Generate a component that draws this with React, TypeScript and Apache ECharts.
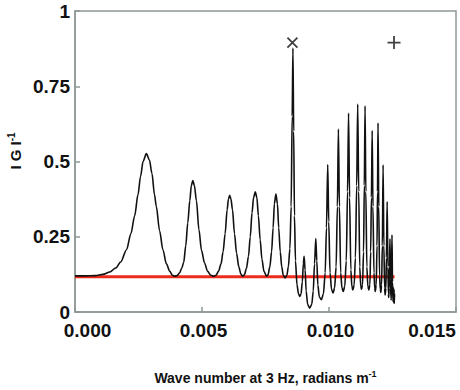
import React, { useEffect, useRef } from "react";
import * as echarts from "echarts";

// Wave number (radians per metre) of each sampled point of the |G|^-1 curve
const waveNumber: number[] = [
  0, 0.0004, 0.0008, 0.0011, 0.00137, 0.0016, 0.0018, 0.00203, 0.0022, 0.00235,
  0.00248, 0.00258, 0.00268, 0.00281, 0.00293, 0.00303, 0.00313, 0.0032, 0.00333, 0.00346,
  0.0036, 0.00373, 0.00384, 0.00392, 0.00402, 0.00412, 0.0042, 0.00428, 0.00436, 0.00444,
  0.00452, 0.00458, 0.00464, 0.0047, 0.00478, 0.00488, 0.00498, 0.0051, 0.00522, 0.00535,
  0.00546, 0.00555, 0.00565, 0.00575, 0.00583, 0.00591, 0.00599, 0.00604, 0.00609, 0.00614,
  0.0062, 0.00628, 0.00636, 0.00645, 0.00653, 0.0066, 0.00667, 0.00675, 0.00683, 0.0069,
  0.00697, 0.00703, 0.0071, 0.00716, 0.00722, 0.00729, 0.00736, 0.00744, 0.00754, 0.0076,
  0.00767, 0.00774, 0.0078, 0.00785, 0.00791, 0.00797, 0.00802, 0.00808, 0.00814, 0.0082,
  0.00827, 0.00834, 0.0084, 0.00846, 0.00851, 0.00855, 0.00858, 0.00861, 0.00864, 0.00868,
  0.00874, 0.0088, 0.00885, 0.0089, 0.00895, 0.00899, 0.00902, 0.00906, 0.0091, 0.00916,
  0.00924, 0.00932, 0.00938, 0.00943, 0.00948, 0.00952, 0.00956, 0.00962, 0.0097, 0.00978,
  0.00985, 0.0099, 0.00995, 0.00999, 0.01004, 0.0101, 0.01016, 0.01022, 0.01028, 0.01033,
  0.01037, 0.01041, 0.01046, 0.01051, 0.01056, 0.01062, 0.01068, 0.01073, 0.01077, 0.01081,
  0.01086, 0.0109, 0.01094, 0.01099, 0.01104, 0.01109, 0.01113, 0.01117, 0.01121, 0.01125,
  0.01128, 0.01132, 0.01136, 0.01139, 0.01142, 0.01145, 0.01149, 0.01153, 0.01157, 0.01161,
  0.01164, 0.01167, 0.0117, 0.01173, 0.01177, 0.0118, 0.01182, 0.01186, 0.01189, 0.01191,
  0.01193, 0.01196, 0.01199, 0.01202, 0.01204, 0.01207, 0.0121, 0.01213, 0.01216, 0.01219,
  0.01221, 0.01224, 0.01226, 0.01229, 0.01232, 0.01234, 0.01235, 0.01237, 0.01238, 0.0124,
  0.01242, 0.01244, 0.01245, 0.01246, 0.01248, 0.0125, 0.01252, 0.01253, 0.01254, 0.01255,
  0.01256, 0.01257, 0.01258,
];

// |G|^-1 at each wave number above
const invG: number[] = [
  0.12, 0.12, 0.121, 0.125, 0.133, 0.146, 0.166, 0.207, 0.26, 0.32,
  0.39, 0.45, 0.5, 0.526, 0.505, 0.46, 0.39, 0.351, 0.27, 0.207,
  0.16, 0.135, 0.122, 0.119, 0.121, 0.13, 0.145, 0.165, 0.22, 0.296,
  0.37, 0.42, 0.437, 0.42, 0.37, 0.273, 0.205, 0.163, 0.135, 0.122,
  0.119, 0.122, 0.135, 0.16, 0.2, 0.26, 0.34, 0.375, 0.388, 0.375,
  0.34, 0.26, 0.195, 0.15, 0.126, 0.119, 0.124, 0.145, 0.185, 0.25,
  0.33, 0.38, 0.399, 0.38, 0.32, 0.24, 0.175, 0.135, 0.119, 0.124,
  0.15, 0.2, 0.28, 0.36, 0.392, 0.36, 0.28, 0.2, 0.15, 0.122,
  0.113, 0.122, 0.15, 0.21, 0.35, 0.65, 0.877, 0.6, 0.32, 0.17,
  0.09, 0.06, 0.052, 0.06, 0.1, 0.16, 0.185, 0.14, 0.07, 0.025,
  0.013, 0.025, 0.07, 0.16, 0.244, 0.17, 0.09, 0.05, 0.041, 0.06,
  0.13, 0.28, 0.49, 0.3, 0.13, 0.075, 0.063, 0.08, 0.15, 0.35,
  0.608, 0.35, 0.13, 0.08, 0.068, 0.085, 0.17, 0.4, 0.661, 0.38,
  0.14, 0.085, 0.073, 0.09, 0.18, 0.42, 0.691, 0.4, 0.15, 0.085,
  0.075, 0.09, 0.2, 0.42, 0.685, 0.4, 0.15, 0.085, 0.073, 0.09,
  0.2, 0.38, 0.603, 0.35, 0.13, 0.08, 0.068, 0.09, 0.22, 0.4,
  0.628, 0.35, 0.12, 0.075, 0.065, 0.09, 0.22, 0.489, 0.22, 0.08,
  0.057, 0.08, 0.18, 0.367, 0.15, 0.06, 0.048, 0.08, 0.15, 0.243,
  0.11, 0.045, 0.04, 0.12, 0.256, 0.1, 0.035, 0.05, 0.08, 0.03,
  0.075, 0.028, 0.06,
];

// Red reference level
const refLevelX: number[] = [0, 0.01258];
const refLevelY: number[] = [0.117, 0.117];

// Markers above the curve
const crossPoint: number[] = [0.00856, 0.895];
const plusPoint: number[] = [0.01256, 0.895];

const xTicks: string[] = ["0.000", "0.005", "0.010", "0.015"];
const yTicks: string[] = ["0", "0.25", "0.5", "0.75", "1"];

export default function App() {
  const ref = useRef<HTMLDivElement>(null);

  useEffect(() => {
    if (!ref.current) return;
    const chart = echarts.init(ref.current, undefined, { renderer: "svg" });
    const gray = "#8e9896";
    const font = "Liberation Sans, Arial, Helvetica, sans-serif";
    const curve = waveNumber.map((x, i) => [x, invG[i]]);
    const ref2 = refLevelX.map((x, i) => [x, refLevelY[i]]);
    const lbl = { fontSize: 19, fontWeight: "bold", fontFamily: font, color: "#111" };

    chart.setOption({
      animation: false,
      backgroundColor: "#ffffff",
      grid: {
        left: 75,
        right: 4,
        top: 11,
        bottom: 78,
        show: true,
        borderColor: gray,
        borderWidth: 1.5,
        backgroundColor: "transparent",
        outerBoundsMode: "none",
        containLabel: false,
      },
      xAxis: {
        type: "value",
        min: 0,
        max: 0.015,
        interval: 0.005,
        name: "{t|Wave number at 3 Hz, radians m}{s|-1}",
        nameLocation: "middle",
        nameGap: 57,
        nameTextStyle: {
          rich: {
            t: { fontSize: 14, fontWeight: "bold", fontFamily: font, color: "#111" },
            s: { fontSize: 9, fontWeight: "bold", fontFamily: font, color: "#111", padding: [0, 0, 8, 0] },
          },
        },
        axisLine: { show: true, lineStyle: { color: gray, width: 1.5 } },
        axisTick: { show: true, inside: true, length: 5, lineStyle: { color: gray, width: 1.5 } },
        splitLine: { show: false },
        axisLabel: {
          margin: 9,
          ...lbl,
          formatter: (v: number) => {
            const i = Math.round(v / 0.005);
            const t = xTicks[i] ?? "";
            if (i === 0) return "{a|" + t + "}";
            if (i === xTicks.length - 1) return "{c|" + t + "}";
            return "{b|" + t + "}";
          },
          rich: {
            a: { ...lbl, padding: [0, 0, 0, 25] },
            b: { ...lbl, padding: [0, 0, 0, 3] },
            c: { ...lbl, padding: [0, 48, 0, 0] },
          },
        },
      },
      yAxis: {
        type: "value",
        min: 0,
        max: 1,
        interval: 0.25,
        axisLine: { show: true, lineStyle: { color: gray, width: 1.5 } },
        axisTick: { show: true, inside: true, length: 5, lineStyle: { color: gray, width: 1.5 } },
        splitLine: { show: false },
        axisLabel: {
          margin: 5,
          ...lbl,
          formatter: (v: number) => yTicks[Math.round(v / 0.25)] ?? "",
        },
      },
      graphic: [
        {
          type: "text",
          x: 15,
          y: 151,
          rotation: Math.PI / 2,
          style: {
            text: "{t|I G I}{s|-1}",
            textAlign: "center",
            textVerticalAlign: "middle",
            rich: {
              t: { fontSize: 15, fontWeight: "bold", fontFamily: font, fill: "#111" },
              s: { fontSize: 10, fontWeight: "bold", fontFamily: font, fill: "#111", padding: [0, 0, 8, 0] },
            },
          },
        },
      ],
      series: [
        {
          type: "line",
          data: ref2,
          showSymbol: false,
          symbol: "none",
          lineStyle: { color: "#ee2a1b", width: 3 },
          z: 2,
          silent: true,
        },
        {
          type: "line",
          data: curve,
          showSymbol: false,
          symbol: "none",
          smooth: 0.3,
          smoothMonotone: "x",
          lineStyle: { color: "#111111", width: 1.6 },
          z: 3,
          silent: true,
        },
        {
          type: "scatter",
          data: [crossPoint],
          symbol: "path://M0,0L10,10M10,0L0,10",
          symbolSize: 10,
          itemStyle: { color: "none", borderColor: "#111", borderWidth: 1.8 },
          z: 4,
          silent: true,
        },
        {
          type: "scatter",
          data: [plusPoint],
          symbol: "path://M0,6.5L13,6.5M6.5,0L6.5,13",
          symbolSize: 13,
          itemStyle: { color: "none", borderColor: "#111", borderWidth: 1.8 },
          z: 4,
          silent: true,
        },
      ],
    });
    return () => chart.dispose();
  }, []);

  return <div ref={ref} style={{ width: 460, height: 390, position: "absolute", left: 0, top: 0 }} />;
}
